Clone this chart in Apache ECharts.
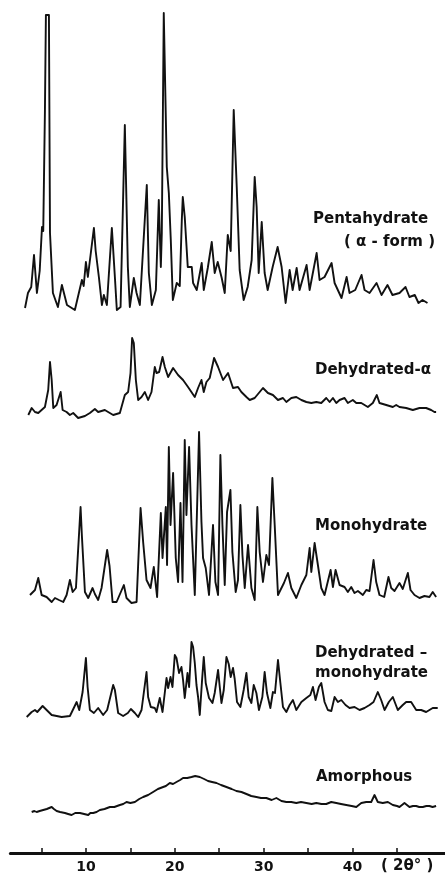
<!DOCTYPE html>
<html><head><meta charset="utf-8">
<script src="https://cdn.jsdelivr.net/npm/echarts@6/dist/echarts.min.js"></script>
<style>html,body{margin:0;padding:0;background:#fff}#c{width:445px;height:879px}</style>
</head><body><div id="c"></div>
<script>
// X-ray powder diffraction patterns: [2θ (deg), intensity (arb. units)]
const pentahydrate = [
[3.15,3],[3.48,18],[3.85,24],[4.16,56],[4.49,18],[4.8,40],[5.06,84],[5.2,80],[5.39,200],[5.5,296],[5.62,296],[5.84,296],[5.96,78],[6.29,18],[6.85,4],[7.3,26],[7.87,6],[8.76,1],[9.1,14],[9.55,31],[9.75,25],[10.0,49],[10.22,34],[10.9,83],[11.1,60],[11.46,34],[11.8,6],[12.02,16],[12.36,6],[12.92,83],[13.26,34],[13.48,1],[13.9,4],[14.38,186],[14.72,44],[14.94,4],[15.39,33],[15.7,18],[15.88,20],[16.07,6],[16.85,126],[17.08,38],[17.42,6],[17.87,21],[18.2,111],[18.43,44],[18.54,78],[18.76,298],[19.1,144],[19.33,118],[19.55,71],[19.78,11],[20.22,28],[20.56,25],[20.79,91],[20.9,114],[21.12,94],[21.46,44],[21.91,44],[22.06,28],[22.47,21],[23.03,48],[23.26,21],[23.71,43],[24.16,69],[24.49,38],[24.83,49],[25.28,33],[25.62,18],[25.96,76],[26.29,60],[26.63,201],[26.97,124],[27.3,41],[27.75,11],[28.2,24],[28.65,51],[28.99,134],[29.21,104],[29.44,38],[29.78,89],[30.11,38],[30.45,21],[31.01,44],[31.57,64],[32.02,44],[32.47,8],[32.92,41],[33.26,21],[33.71,43],[34.04,21],[34.83,46],[35.17,21],[35.96,58],[36.29,31],[36.85,34],[37.64,48],[37.98,28],[38.76,13],[39.33,34],[39.66,18],[40.3,21],[41.01,36],[41.35,21],[41.91,18],[42.7,28],[43.26,16],[43.93,26],[44.49,16],[45.28,18],[45.96,24],[46.4,14],[47.0,16],[47.42,8],[47.87,11],[48.43,8]
];
const dehydratedAlpha = [
[3.52,5],[3.9,12],[4.27,8],[4.64,7],[5.39,13],[5.76,30],[5.96,58],[6.15,40],[6.33,12],[6.7,15],[7.16,28],[7.38,10],[7.83,8],[8.2,5],[8.57,7],[9.13,2],[9.89,4],[10.45,7],[10.64,5],[11.01,11],[11.38,8],[12.13,10],[12.5,8],[13.07,5],[13.82,7],[14.38,25],[14.75,28],[15.02,47],[15.2,82],[15.39,77],[15.62,40],[15.88,20],[16.26,23],[16.63,28],[17.0,20],[17.38,28],[17.75,53],[17.94,47],[18.24,48],[18.62,63],[18.88,53],[19.25,43],[19.81,52],[20.37,45],[20.93,40],[21.49,33],[22.25,23],[22.62,32],[23.0,40],[23.26,28],[23.56,38],[23.93,42],[24.42,62],[24.87,53],[25.43,40],[25.99,47],[26.55,32],[27.11,33],[27.49,28],[28.06,23],[28.43,20],[28.99,22],[29.55,28],[29.92,32],[30.48,27],[31.04,25],[31.61,20],[32.17,22],[32.55,18],[33.11,22],[33.67,23],[34.24,20],[34.8,18],[35.36,17],[35.92,18],[36.48,17],[37.04,22],[37.42,18],[37.79,22],[38.17,17],[38.54,20],[39.1,22],[39.47,17],[40.03,20],[40.42,17],[40.98,17],[41.72,13],[42.28,17],[42.73,25],[43.03,17],[43.79,15],[44.53,13],[44.91,15],[45.28,13],[46.03,12],[46.78,10],[47.53,12],[48.28,12],[48.84,10],[49.21,8],[49.4,8]
];
const monohydrate = [
[3.71,11],[4.27,16],[4.64,28],[5.02,11],[5.58,9],[6.15,4],[6.52,8],[6.97,6],[7.45,4],[7.83,11],[8.2,26],[8.51,14],[8.88,18],[9.4,99],[9.55,70],[9.89,14],[10.26,8],[10.75,18],[11.01,12],[11.38,6],[11.76,18],[12.39,56],[12.66,40],[13.0,4],[13.45,4],[14.27,21],[14.57,8],[15.13,3],[15.7,4],[16.15,98],[16.44,64],[16.82,26],[17.27,18],[17.64,39],[18.01,9],[18.43,93],[18.62,48],[18.99,99],[19.13,41],[19.33,159],[19.52,81],[19.81,133],[20.11,48],[20.37,24],[20.64,103],[20.87,24],[21.12,166],[21.31,91],[21.61,159],[21.88,81],[22.25,11],[22.73,174],[23.0,84],[23.18,48],[23.48,38],[23.85,11],[24.3,81],[24.57,24],[24.87,11],[25.13,151],[25.36,81],[25.62,21],[25.88,94],[26.26,116],[26.48,54],[26.85,14],[27.11,26],[27.38,101],[27.61,51],[27.87,18],[28.24,61],[28.62,18],[28.99,6],[29.29,99],[29.55,54],[29.92,24],[30.3,51],[30.6,41],[30.98,128],[31.24,81],[31.61,11],[31.8,11],[32.28,23],[32.73,33],[33.11,18],[33.67,8],[34.24,21],[34.8,31],[35.17,58],[35.36,34],[35.73,63],[36.1,41],[36.48,18],[36.85,11],[37.53,36],[37.79,19],[38.09,36],[38.54,21],[39.1,19],[39.47,14],[39.85,19],[40.22,13],[40.6,15],[41.16,11],[41.54,16],[41.91,15],[42.36,46],[42.66,24],[43.03,11],[43.56,9],[44.04,29],[44.35,18],[44.72,15],[45.28,23],[45.65,17],[46.22,33],[46.52,16],[46.97,11],[47.53,8],[48.09,10],[48.65,9],[49.02,14],[49.4,9]
];
const dehydratedMono = [
[3.34,2],[3.9,7],[4.27,9],[4.53,7],[5.13,13],[5.58,9],[6.15,4],[6.71,3],[7.27,2],[8.2,3],[8.69,12],[8.96,17],[9.25,9],[9.63,27],[10.0,61],[10.19,32],[10.45,9],[10.9,6],[11.38,11],[11.94,4],[12.39,9],[13.07,34],[13.26,29],[13.63,6],[14.19,3],[14.72,6],[15.06,10],[15.51,6],[15.88,2],[16.26,9],[16.82,47],[17.0,22],[17.3,12],[17.75,11],[17.94,7],[18.31,21],[18.62,7],[19.07,41],[19.25,31],[19.52,42],[19.74,32],[20.0,64],[20.19,61],[20.48,46],[20.75,52],[20.93,39],[21.12,21],[21.43,46],[21.61,32],[21.88,77],[22.06,72],[22.25,56],[22.44,34],[22.62,22],[22.81,4],[23.07,39],[23.26,62],[23.48,36],[23.85,21],[24.24,16],[24.49,26],[24.87,49],[25.06,32],[25.25,16],[25.51,29],[25.81,62],[26.07,55],[26.29,42],[26.55,51],[26.74,40],[27.0,17],[27.38,12],[27.75,29],[28.06,46],[28.31,22],[28.62,16],[28.88,34],[29.18,26],[29.47,9],[29.85,22],[30.11,47],[30.37,26],[30.75,11],[31.04,27],[31.27,26],[31.61,59],[31.88,36],[32.17,12],[32.55,7],[32.92,14],[33.29,19],[33.67,9],[34.24,17],[34.8,21],[35.25,24],[35.54,32],[35.84,19],[36.21,32],[36.48,36],[36.85,17],[37.22,9],[37.61,8],[37.98,22],[38.35,17],[38.73,19],[39.21,14],[39.66,11],[40.22,12],[40.79,9],[41.35,11],[41.91,14],[42.36,17],[42.84,27],[43.22,19],[43.6,9],[44.08,17],[44.53,22],[45.09,9],[45.65,14],[46.03,17],[46.59,17],[47.16,9],[47.72,9],[48.28,7],[49.02,11],[49.58,11]
];
const amorphous = [
[3.9,5],[4.2,6],[4.46,5],[4.8,6],[5.2,7],[5.6,8],[6.15,10],[6.4,8],[6.71,6],[7.1,5],[7.64,4],[8.0,3],[8.39,2],[8.8,4],[9.33,4],[9.8,3],[10.26,2],[10.5,4],[10.82,4],[11.2,5],[11.57,7],[12.1,8],[12.7,10],[13.2,10],[13.82,12],[14.2,13],[14.57,15],[15.0,14],[15.51,15],[16.0,18],[16.44,20],[17.0,22],[17.56,25],[18.1,28],[18.69,30],[19.0,31],[19.44,34],[19.8,33],[20.19,35],[20.6,37],[20.93,39],[21.4,39],[21.88,40],[22.3,41],[22.81,40],[23.3,38],[23.74,36],[24.2,35],[24.69,34],[25.2,32],[25.81,30],[26.4,28],[26.93,26],[27.5,25],[28.06,23],[28.6,21],[29.18,20],[29.7,19],[30.3,19],[30.9,17],[31.43,19],[32.0,16],[32.55,15],[33.1,15],[33.67,14],[34.2,15],[34.8,14],[35.4,13],[35.92,14],[36.5,13],[37.04,13],[37.6,15],[38.17,14],[38.7,13],[39.29,12],[39.9,11],[40.42,10],[40.98,14],[41.54,15],[42.1,15],[42.47,22],[42.84,15],[43.4,14],[43.97,15],[44.53,12],[45.0,11],[45.28,10],[45.84,14],[46.4,10],[46.8,11],[47.16,11],[47.5,10],[47.9,10],[48.3,11],[48.65,11],[49.0,10],[49.4,11]
];
const tickValues = [5,10,15,20,25,30,35,40,45];
const tickLabels = [10,20,30,40];
const axisUnit = '( 2θ° )';
const labelLines = [
  ['Pentahydrate', 313, 219],
  ['( α - form )', 344, 242],
  ['Dehydrated-α', 315, 370],
  ['Monohydrate', 315, 526],
  ['Dehydrated –', 315, 653],
  ['monohydrate', 315, 673],
  ['Amorphous', 316, 777]
];

const X_MIN = 1.5, X_MAX = 50.4, LEFT = 10.35, WIDTH = 435.2;
const traces = [
  {data: pentahydrate, base: 311, h: 305},
  {data: dehydratedAlpha, base: 420, h: 100},
  {data: monohydrate, base: 606, h: 180},
  {data: dehydratedMono, base: 719, h: 90},
  {data: amorphous, base: 817, h: 50}
];
const FONT = '"DejaVu Sans", sans-serif';
const grid = [], xAxis = [], yAxis = [], series = [];
traces.forEach((t, i) => {
  grid.push({left: LEFT, width: WIDTH, top: t.base - t.h, height: t.h});
  xAxis.push({type: 'value', gridIndex: i, min: X_MIN, max: X_MAX, show: false});
  yAxis.push({type: 'value', gridIndex: i, min: 0, max: t.h, show: false});
  series.push({type: 'line', xAxisIndex: i, yAxisIndex: i, data: t.data, showSymbol: false, symbol: 'none',
    lineStyle: {color: '#111', width: 1.9, join: 'round'}, silent: true, animation: false});
});
// bottom axis
const ai = traces.length;
grid.push({left: LEFT, width: WIDTH, top: 800, height: 53});
xAxis.push({type: 'value', gridIndex: ai, min: X_MIN, max: X_MAX,
  axisLine: {show: true, lineStyle: {color: '#111', width: 3}},
  axisTick: {show: true, inside: true, length: 5, customValues: tickValues, lineStyle: {color: '#111', width: 1.5}},
  axisLabel: {show: true, customValues: tickLabels, margin: 7, color: '#111', fontSize: 14, fontWeight: 'bold', fontFamily: FONT},
  splitLine: {show: false}});
yAxis.push({type: 'value', gridIndex: ai, min: 0, max: 1, show: false});

const graphic = labelLines.map(l => ({type: 'text', x: l[1], y: l[2],
  style: {text: l[0], fill: '#111', fontSize: 15, fontWeight: 'bold', fontFamily: FONT, verticalAlign: 'middle', align: 'left'}}));
graphic.push({type: 'text', x: 381, y: 866, style: {text: axisUnit, fill: '#111', fontSize: 15, fontWeight: 'bold', fontFamily: FONT, verticalAlign: 'middle'}});

const chart = echarts.init(document.getElementById('c'), null, {renderer: 'canvas'});
chart.setOption({animation: false, backgroundColor: '#fff', grid, xAxis, yAxis, series, graphic});
</script></body></html>
